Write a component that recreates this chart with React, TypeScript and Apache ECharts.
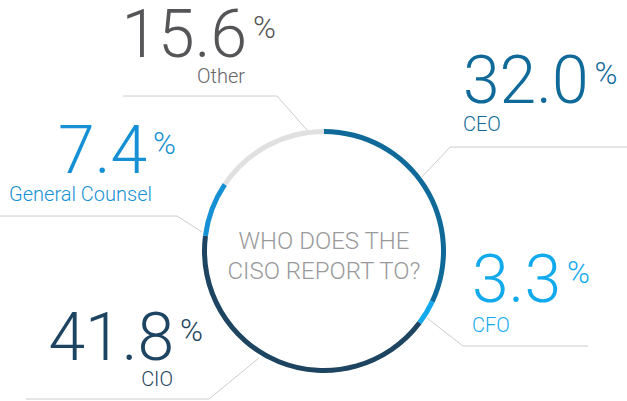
import { useEffect, useRef } from "react";
import * as echarts from "echarts";

// who the CISO reports to, in ring order starting from 12 o'clock
const categories = ["CEO", "CFO", "CIO", "General Counsel", "Other"];
const shares = [32.0, 3.3, 41.8, 7.4, 15.6];
const centerTitle = ["WHO DOES THE", "CISO REPORT TO?"];

const COLORS = ["#0f6a9a", "#12aaec", "#1d4460", "#1690d4", "#e0e0e0"];
const NUM_COLORS = ["#0f6a9a", "#12aaec", "#1d4460", "#1690d4", "#555558"];
const FONT = "Roboto, 'Noto Sans', sans-serif";

// label placement per category: anchor x, top of number, align, label offset, leader points
const LAYOUT = [
  { x: 463, y: 59, align: "left", labelY: 117, line: [[422, 177], [450, 147], [627, 147]] },
  { x: 472, y: 258, align: "left", labelY: 318, line: [[427, 318], [463, 346], [588, 346]] },
  { x: 203, y: 316, align: "right", labelY: 372, labelX: 173, line: [[259, 358], [209, 399], [26, 399]] },
  { x: 176, y: 129, align: "right", labelY: 187, labelX: 152, line: [[202, 232], [177, 216], [0, 216]] },
  { x: 276, y: 13, align: "right", labelY: 69, labelX: 245, line: [[307, 130], [277, 96], [123, 96]] },
];

export default function App() {
  const chartRef = useRef<HTMLDivElement>(null);

  useEffect(() => {
    if (!chartRef.current) return;
    const chart = echarts.init(chartRef.current, undefined, { renderer: "svg" });

    const graphics: any[] = [];
    categories.forEach((name, i) => {
      const l = LAYOUT[i];
      graphics.push({
        type: "polyline",
        shape: { points: l.line },
        style: { stroke: "#cccccc", lineWidth: 1, fill: null },
        silent: true,
      });
      graphics.push({
        type: "text",
        x: l.x,
        y: l.y - 4,
        style: {
          text: `{n|${shares[i].toFixed(1)}}{p|%}`,
          align: l.align,
          verticalAlign: "top",
          fill: NUM_COLORS[i],
          rich: {
            n: { fontSize: 66, fontWeight: 300, fontFamily: FONT, lineHeight: 50, fill: NUM_COLORS[i] },
            p: {
              fontSize: 31,
              fontWeight: 300,
              fontFamily: FONT,
              verticalAlign: "top",
              lineHeight: 31,
              padding: [3, 0, 0, 6],
              fill: NUM_COLORS[i],
            },
          },
        },
      });
      graphics.push({
        type: "text",
        x: l.align === "left" ? l.x : l.labelX,
        y: l.labelY - 3,
        style: {
          text: name,
          align: l.align,
          verticalAlign: "top",
          fontSize: 20,
          fontWeight: 300,
          fontFamily: FONT,
          fill: i === 4 ? "#666668" : NUM_COLORS[i],
        },
      });
    });
    graphics.push({
      type: "text",
      x: 324,
      y: 256,
      style: {
        text: centerTitle.join("\n"),
        align: "center",
        verticalAlign: "middle",
        fontSize: 24,
        fontWeight: 300,
        lineHeight: 30,
        fontFamily: FONT,
        fill: "#9a9a9c",
      },
    });

    chart.setOption({
      animation: false,
      backgroundColor: "#ffffff",
      series: [
        {
          type: "pie",
          center: [324, 251],
          radius: [117, 122],
          startAngle: 90,
          clockwise: true,
          label: { show: false },
          labelLine: { show: false },
          silent: true,
          data: categories.map((name, i) => ({
            name,
            value: shares[i],
            itemStyle: { color: COLORS[i] },
          })),
        },
      ],
      graphic: graphics,
    });

    return () => chart.dispose();
  }, []);

  return (
    <div
      ref={chartRef}
      style={{ position: "absolute", left: 0, top: 0, width: 627, height: 401 }}
    />
  );
}
